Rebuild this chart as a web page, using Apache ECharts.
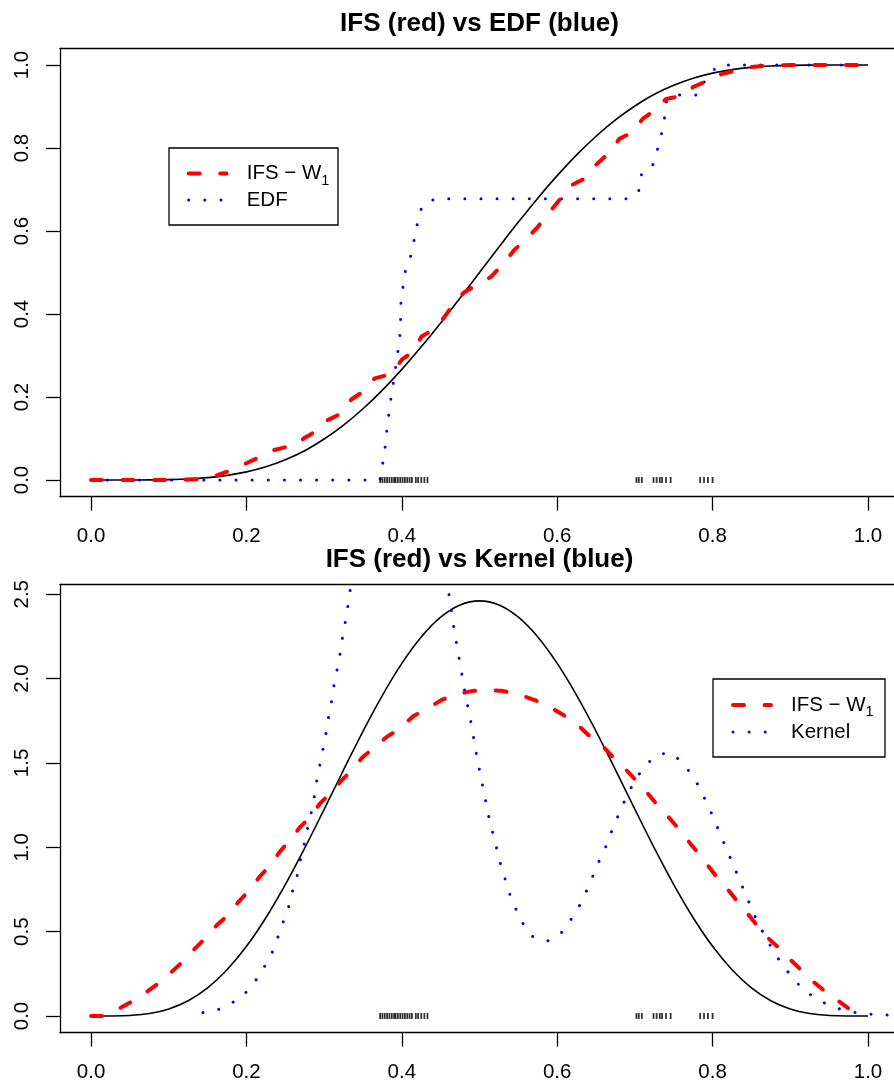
<!DOCTYPE html>
<html><head><meta charset="utf-8">
<script src="https://cdn.jsdelivr.net/npm/echarts@6/dist/echarts.min.js"></script>
<style>html,body{margin:0;padding:0;background:#fff}#c{width:894px;height:1084px}</style>
</head><body><div id="c"></div>
<script>
// ---------- data ----------
const xGrid = [0,0.025,0.05,0.075,0.1,0.125,0.15,0.175,0.2,0.225,0.25,0.275,0.3,0.325,0.35,0.375,0.4,0.425,0.45,0.475,0.5,
  0.525,0.55,0.575,0.6,0.625,0.65,0.675,0.7,0.725,0.75,0.775,0.8,0.825,0.85,0.875,0.9,0.925,0.95,0.975,1];
const trueCdf = [0,0.000001,0.000033,0.000231,0.000891,0.002482,0.00563,0.011065,0.01958,0.031963,0.04893,0.070671,0.09881,0.132345,0.17172,0.21662,0.26657,0.320865,0.37858,0.43869,0.5,
  0.56131,0.62142,0.679135,0.73343,0.78338,0.82828,0.867655,0.90119,0.929329,0.95107,0.968037,0.98042,0.988935,0.99437,0.997518,0.999109,0.999769,0.999967,0.999999,1];
const truePdf = [0,0.000222,0.003207,0.014593,0.04133,0.09016,0.16649,0.27372,0.41288,0.58248,0.77866,0.99544,1.22523,1.4591,1.68759,1.90102,2.09019,2.24682,2.36397,2.4364,2.46094,
  2.4364,2.36397,2.24682,2.09019,1.90102,1.68759,1.4591,1.22523,0.99544,0.77866,0.58248,0.41288,0.27372,0.16649,0.09016,0.04133,0.014593,0.003207,0.000222,0];

const ifsCdf = [[0,0],[0.10,0],[0.14,0.002],[0.16,0.01],[0.175,0.02],[0.19,0.032],[0.205,0.045],[0.22,0.058],[0.235,0.072],[0.25,0.079],[0.262,0.082],
  [0.275,0.102],[0.29,0.118],[0.305,0.145],[0.32,0.158],[0.335,0.194],[0.35,0.213],[0.365,0.245],[0.38,0.252],[0.39,0.264],[0.40,0.29],[0.415,0.31],
  [0.425,0.345],[0.44,0.362],[0.45,0.38],[0.465,0.42],[0.48,0.452],[0.50,0.474],[0.515,0.49],[0.53,0.52],[0.545,0.555],[0.56,0.58],[0.575,0.61],
  [0.59,0.645],[0.605,0.68],[0.62,0.712],[0.635,0.726],[0.65,0.76],[0.665,0.785],[0.68,0.822],[0.695,0.836],[0.71,0.87],[0.725,0.89],[0.74,0.918],
  [0.758,0.925],[0.775,0.947],[0.792,0.961],[0.81,0.977],[0.83,0.987],[0.85,0.995],[0.87,0.999],[0.9,1],[1,1]];
const edf = [[0,0],[0.372,0],[0.375,0.036],[0.378,0.069],[0.38,0.107],[0.382,0.143],[0.385,0.178],[0.387,0.217],[0.391,0.25],[0.393,0.289],
  [0.396,0.321],[0.398,0.359],[0.3985,0.398],[0.399,0.436],[0.402,0.471],[0.405,0.51],[0.411,0.537],[0.415,0.571],[0.419,0.606],[0.422,0.643],
  [0.43,0.669],[0.446,0.678],[0.694,0.678],[0.705,0.697],[0.708,0.735],[0.721,0.749],[0.727,0.779],[0.731,0.814],[0.736,0.845],[0.739,0.884],
  [0.741,0.917],[0.758,0.928],[0.78,0.928],[0.788,0.956],[0.797,0.978],[0.807,1.0],[1.0,1.0]];

const ifsPdf = [[0,0],[0.018,0],[0.037,0.046],[0.052,0.085],[0.072,0.144],[0.087,0.194],[0.104,0.263],[0.118,0.322],[0.134,0.401],[0.147,0.461],
  [0.162,0.539],[0.175,0.593],[0.19,0.678],[0.202,0.737],[0.217,0.826],[0.229,0.885],[0.243,0.974],[0.254,1.033],[0.269,1.12],[0.279,1.165],
  [0.295,1.261],[0.308,1.32],[0.323,1.399],[0.336,1.458],[0.35,1.537],[0.366,1.596],[0.381,1.656],[0.395,1.695],[0.415,1.778],[0.43,1.814],
  [0.451,1.873],[0.466,1.903],[0.49,1.926],[0.509,1.932],[0.531,1.926],[0.548,1.909],[0.571,1.873],[0.586,1.843],[0.608,1.784],[0.623,1.741],
  [0.64,1.666],[0.655,1.617],[0.67,1.543],[0.683,1.488],[0.698,1.413],[0.711,1.35],[0.726,1.267],[0.739,1.202],[0.754,1.122],[0.764,1.063],
  [0.78,0.974],[0.79,0.915],[0.805,0.826],[0.816,0.771],[0.831,0.684],[0.842,0.624],[0.857,0.539],[0.867,0.48],[0.886,0.401],[0.897,0.348],
  [0.916,0.263],[0.927,0.213],[0.947,0.138],[0.96,0.095],[0.979,0.031],[0.996,0]];
const kernel = [[0.144,0.02],[0.164,0.039],[0.182,0.079],[0.199,0.138],[0.212,0.211],[0.223,0.292],[0.233,0.375],[0.24,0.462],[0.247,0.553],
  [0.254,0.642],[0.259,0.735],[0.265,0.826],[0.269,0.917],[0.274,1.01],[0.278,1.1],[0.283,1.197],[0.287,1.29],[0.29,1.383],[0.294,1.478],
  [0.298,1.571],[0.302,1.664],[0.305,1.756],[0.309,1.849],[0.312,1.944],[0.316,2.037],[0.32,2.132],[0.323,2.225],[0.3265,2.318],[0.33,2.413],
  [0.333,2.506],[0.345,2.9],[0.36,3.3],[0.38,3.6],[0.4,3.7],[0.42,3.55],[0.44,3.15],[0.452,2.8],[0.461,2.486],[0.467,2.3],[0.474,2.112],
  [0.481,1.926],[0.489,1.739],[0.496,1.551],[0.504,1.365],[0.512,1.18],[0.517,1.087],[0.522,0.994],[0.527,0.901],[0.533,0.81],[0.539,0.721],
  [0.547,0.632],[0.556,0.547],[0.568,0.472],[0.587,0.443],[0.605,0.492],[0.617,0.567],[0.628,0.648],[0.637,0.735],[0.645,0.82],[0.653,0.909],
  [0.662,0.996],[0.669,1.083],[0.677,1.172],[0.685,1.259],[0.694,1.344],[0.704,1.425],[0.717,1.502],[0.733,1.553],[0.745,1.56],[0.753,1.537],
  [0.767,1.468],[0.779,1.389],[0.788,1.306],[0.797,1.219],[0.805,1.132],[0.813,1.043],[0.821,0.956],[0.829,0.87],[0.837,0.781],[0.845,0.694],
  [0.853,0.606],[0.862,0.52],[0.872,0.437],[0.882,0.356],[0.894,0.279],[0.907,0.203],[0.922,0.138],[0.94,0.085],[0.958,0.049],[0.979,0.024],
  [0.998,0.012],[1.019,0.006],[1.035,0.004]];
const sample = [0.372,0.375,0.378,0.381,0.384,0.387,0.39,0.392,0.395,0.398,0.401,0.404,0.407,0.41,0.413,0.418,0.421,0.425,0.429,0.433,
  0.702,0.705,0.709,0.724,0.728,0.732,0.735,0.74,0.746,0.784,0.789,0.794,0.8];

const xTicks = [0,0.2,0.4,0.6,0.8,1.0];
const yTicksTop = [0,0.2,0.4,0.6,0.8,1.0];
const yTicksBottom = [0,0.5,1.0,1.5,2.0,2.5];
const titles = ['IFS (red) vs EDF (blue)', 'IFS (red) vs Kernel (blue)'];
const legendTop = ['IFS', 'EDF'];
const legendBottom = ['IFS', 'Kernel'];

// ---------- chart ----------
const FONT = "'Liberation Sans', Arial, Helvetica, sans-serif";
const chart = echarts.init(document.getElementById('c'), null, {renderer: 'canvas'});
const XMIN = -0.04, XMAX = 1.0335;
const AXC = {color: '#000', width: 1.3};

function xAx(gi){
  return {gridIndex: gi, type: 'value', min: XMIN, max: XMAX, position: 'bottom',
    splitLine: {show: false},
    axisLine: {show: true, onZero: false, lineStyle: AXC},
    axisTick: {show: true, customValues: xTicks, length: 14, inside: false, lineStyle: AXC},
    axisLabel: {show: true, customValues: xTicks, formatter: v => v.toFixed(1), color: '#000', fontSize: 20.5, fontFamily: FONT, margin: 29}
  };
}
function xTop(gi){
  return {gridIndex: gi, type: 'value', min: XMIN, max: XMAX, position: 'top',
    splitLine: {show: false},
    axisLine: {show: true, onZero: false, lineStyle: AXC},
    axisTick: {show: false}, axisLabel: {show: false}
  };
}
function yAx(gi, mn, mx, ticks){
  return {gridIndex: gi, type: 'value', min: mn, max: mx, position: 'left',
    splitLine: {show: false},
    axisLine: {show: true, onZero: false, lineStyle: AXC},
    axisTick: {show: true, customValues: ticks, length: 14, inside: false, lineStyle: AXC},
    axisLabel: {show: true, customValues: ticks, formatter: v => v.toFixed(1), rotate: 90, color: '#000', fontSize: 20.5, fontFamily: FONT, margin: 27}
  };
}
const red = {color: '#ff0000', width: 4, type: [11, 20.5], cap: 'round'};
const blue = {color: '#0000ff', width: 3, type: [0.01, 16.1], cap: 'round'};
const black = {color: '#000', width: 1.6};

function lineSeries(gi, data, ls, z, smooth){
  return {type: 'line', xAxisIndex: gi, yAxisIndex: gi, data: data, showSymbol: false, symbol: 'none',
    smooth: smooth || false, lineStyle: ls, clip: true, silent: true, z: z, animation: false};
}
function rugSeries(gi){
  return {type: 'scatter', xAxisIndex: gi, yAxisIndex: gi, data: sample.map(s => [s, 0]),
    symbol: 'rect', symbolSize: [1.8, 6], itemStyle: {color: '#000'}, silent: true, z: 3};
}

function legendGraphics(bx, by, bw, bh, lx1, lx2, tx, y1, y2, label2){
  return [
    {type: 'rect', shape: {x: bx, y: by, width: bw, height: bh}, style: {fill: '#fff', stroke: '#000', lineWidth: 1.3}, z: 100},
    {type: 'line', shape: {x1: lx1, y1: y1, x2: lx2, y2: y1}, style: {stroke: '#ff0000', lineWidth: 4, lineDash: [11, 20.5], lineCap: 'round'}, z: 101},
    {type: 'line', shape: {x1: lx1, y1: y2, x2: lx2, y2: y2}, style: {stroke: '#0000ff', lineWidth: 3, lineDash: [0.01, 16.1], lineCap: 'round'}, z: 101},
    {type: 'text', x: tx, y: y1, z: 101, style: {text: '{m|IFS \u2212 W}{s|1}', verticalAlign: 'middle', align: 'left',
      rich: {m: {fontSize: 20.5, fontFamily: FONT, fill: '#000'}, s: {fontSize: 14.5, fontFamily: FONT, fill: '#000', padding: [14, 0, 0, 0]}}}},
    {type: 'text', x: tx, y: y2, z: 101, style: {text: label2, font: '20.5px ' + FONT, fill: '#000', verticalAlign: 'middle', align: 'left'}}
  ];
}

const option = {
  animation: false,
  backgroundColor: '#fff',
  title: [
    {text: titles[0], left: 479.5, top: 10.5, textAlign: 'center', padding: 0,
      textStyle: {fontSize: 26, fontWeight: 'bold', fontFamily: FONT, color: '#000'}},
    {text: titles[1], left: 479.5, top: 547, textAlign: 'center', padding: 0,
      textStyle: {fontSize: 26, fontWeight: 'bold', fontFamily: FONT, color: '#000'}}
  ],
  grid: [
    {left: 60, top: 48.4, right: 0, height: 448.2, show: false, containLabel: false},
    {left: 60, top: 584.4, right: 0, height: 448.2, show: false, containLabel: false}
  ],
  xAxis: [xAx(0), xAx(1), xTop(0), xTop(1)],
  yAxis: [yAx(0, -0.04, 1.04, yTicksTop), yAx(1, -0.0985, 2.5585, yTicksBottom)],
  series: [
    lineSeries(0, xGrid.map((x, i) => [x, trueCdf[i]]), black, 2, 0.4),
    lineSeries(0, edf, blue, 3),
    lineSeries(0, ifsCdf, red, 4),
    rugSeries(0),
    lineSeries(1, xGrid.map((x, i) => [x, truePdf[i]]), black, 2, 0.4),
    lineSeries(1, kernel, blue, 3),
    lineSeries(1, ifsPdf, red, 4),
    rugSeries(1)
  ],
  graphic: {elements: [
    ...legendGraphics(169, 148, 169, 77, 188.7, 226.5, 246.7, 173.5, 200, legendTop[1]),
    ...legendGraphics(713, 679, 172, 78, 733, 771, 791, 705, 732, legendBottom[1])
  ]}
};
chart.setOption(option);
</script></body></html>
